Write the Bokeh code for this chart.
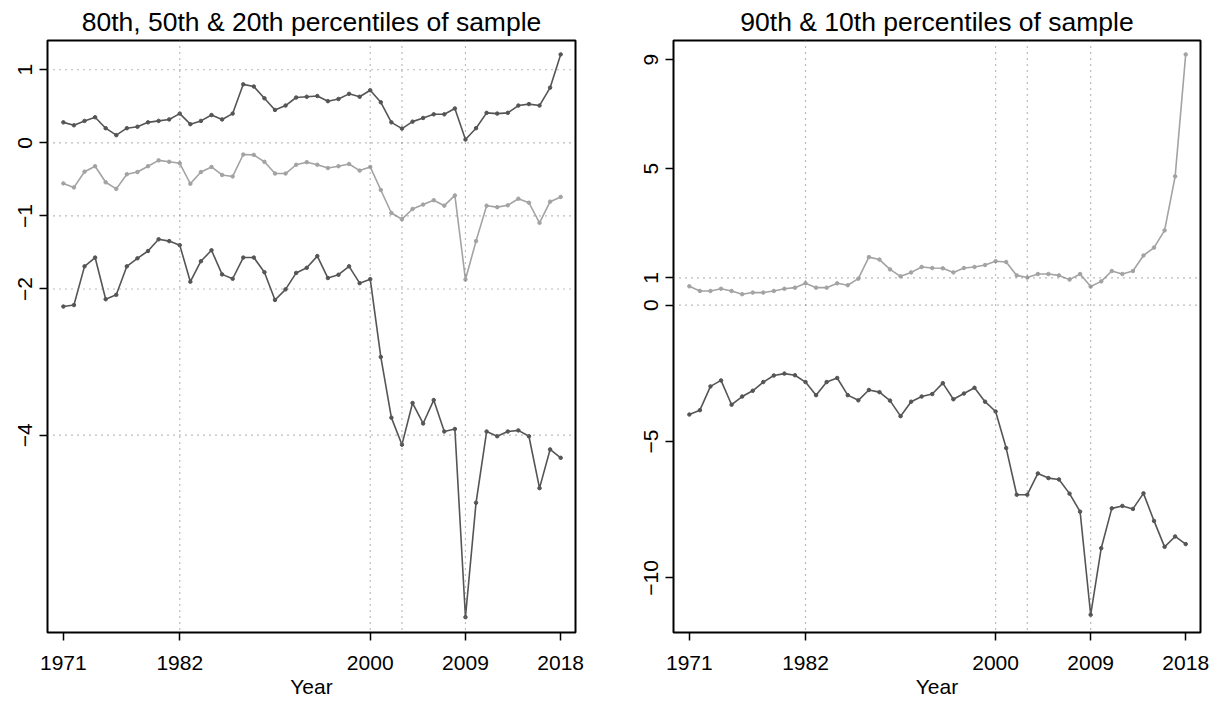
from bokeh.plotting import figure
from bokeh.layouts import row
from bokeh.models import Range1d, FixedTicker, Span
from bokeh.embed import file_html
from bokeh.resources import INLINE

years = list(range(1971, 2019))

p80 = [0.28, 0.24, 0.30, 0.35, 0.20, 0.105, 0.20, 0.22, 0.28, 0.30, 0.32, 0.40,
       0.255, 0.30, 0.38, 0.32, 0.40, 0.80, 0.77, 0.61, 0.45, 0.51, 0.62, 0.63,
       0.64, 0.57, 0.60, 0.67, 0.63, 0.72, 0.555, 0.28, 0.195, 0.29, 0.34, 0.39,
       0.39, 0.47, 0.045, 0.20, 0.41, 0.40, 0.41, 0.51, 0.53, 0.51, 0.755, 1.21]
p50 = [-0.555, -0.61, -0.395, -0.32, -0.54, -0.63, -0.43, -0.40, -0.32, -0.24, -0.26, -0.28,
       -0.56, -0.40, -0.33, -0.44, -0.46, -0.16, -0.165, -0.26, -0.42, -0.42, -0.30, -0.265,
       -0.30, -0.345, -0.32, -0.29, -0.38, -0.33, -0.645, -0.96, -1.045, -0.905, -0.845, -0.785,
       -0.86, -0.72, -1.87, -1.345, -0.86, -0.88, -0.855, -0.765, -0.82, -1.095, -0.805, -0.74]
p20 = [-2.24, -2.22, -1.69, -1.57, -2.14, -2.08, -1.69, -1.58, -1.48, -1.32, -1.345, -1.40,
       -1.90, -1.62, -1.47, -1.80, -1.86, -1.57, -1.57, -1.77, -2.15, -2.005, -1.78, -1.71,
       -1.55, -1.85, -1.805, -1.69, -1.92, -1.865, -2.93, -3.76, -4.13, -3.56, -3.84, -3.52,
       -3.95, -3.915, -6.49, -4.925, -3.95, -4.015, -3.95, -3.935, -4.015, -4.725, -4.195, -4.31]
p90 = [0.69, 0.52, 0.52, 0.60, 0.52, 0.40, 0.46, 0.46, 0.52, 0.60, 0.64, 0.80,
       0.64, 0.64, 0.80, 0.73, 0.97, 1.76, 1.67, 1.31, 1.055, 1.20, 1.40, 1.36,
       1.35, 1.20, 1.36, 1.40, 1.47, 1.61, 1.58, 1.09, 1.01, 1.14, 1.14, 1.09,
       0.935, 1.14, 0.68, 0.87, 1.25, 1.14, 1.25, 1.82, 2.11, 2.74, 4.72, 9.19]
p10 = [-4.01, -3.85, -2.98, -2.76, -3.65, -3.35, -3.14, -2.82, -2.58, -2.51, -2.57, -2.82,
       -3.30, -2.82, -2.67, -3.30, -3.49, -3.11, -3.19, -3.50, -4.07, -3.54, -3.35, -3.26,
       -2.86, -3.45, -3.24, -3.03, -3.54, -3.90, -5.24, -6.95, -6.95, -6.17, -6.34, -6.39,
       -6.91, -7.57, -11.35, -8.91, -7.45, -7.36, -7.47, -6.90, -7.91, -8.86, -8.48, -8.76]

x_ticks = [1971, 1982, 2000, 2009, 2018]
left_y_ticks = [1, 0, -1, -2, -4]
right_y_ticks = [9, 5, 1, 0, -5, -10]
v_refs = [1982, 2000, 2003, 2009]
left_h_refs = [1, 0, -1, -2, -4]
right_h_refs = [1, 0]

left_title = "80th, 50th & 20th percentiles of sample"
right_title = "90th & 10th percentiles of sample"

DARK = "#555555"
LIGHT = "#a3a3a3"
FONT = "Liberation Sans"


def panel(title, series, yticks, hrefs, yr, width, mbl, mbr):
    p = figure(width=width, height=700, output_backend="svg", toolbar_location=None,
               x_range=Range1d(1969.5, 2019.4), y_range=Range1d(*yr),
               min_border_left=mbl, min_border_right=mbr, min_border_top=40,
               min_border_bottom=67)
    p.title.text = title
    p.title.align = "center"
    p.title.text_font = FONT
    p.title.text_font_size = "26.5px"
    p.title.text_font_style = "normal"
    p.title.text_color = "black"
    p.title.standoff = 8
    p.outline_line_color = "black"
    p.outline_line_width = 2
    p.outline_line_alpha = 1
    p.xgrid.visible = False
    p.ygrid.visible = False
    for ax in (p.xaxis, p.yaxis):
        ax.axis_line_color = None
        ax.major_tick_in = 0
        ax.major_tick_out = 8
        ax.major_tick_line_color = "black"
        ax.major_tick_line_width = 1.5
        ax.minor_tick_line_color = None
        ax.major_label_text_font = FONT
        ax.major_label_text_font_size = "21px"
        ax.major_label_text_color = "black"
    p.xaxis.ticker = FixedTicker(ticks=x_ticks)
    p.yaxis.ticker = FixedTicker(ticks=yticks)
    p.xaxis.major_label_standoff = 15
    p.yaxis.major_label_standoff = 7
    p.yaxis.major_label_orientation = "vertical"
    p.xaxis.axis_label = "Year"
    p.xaxis.axis_label_text_font = FONT
    p.xaxis.axis_label_text_font_size = "21px"
    p.xaxis.axis_label_text_font_style = "normal"
    p.xaxis.axis_label_text_color = "black"
    p.xaxis.axis_label_standoff = 2
    for v in v_refs:
        p.add_layout(Span(location=v, dimension="height", line_color="#777777",
                          line_dash="1 5", line_width=1.2))
    for h in hrefs:
        p.add_layout(Span(location=h, dimension="width", line_color="#777777",
                          line_dash="1 5", line_width=1.2))
    for vals, col in series:
        p.line(years, vals, line_color=col, line_width=1.6)
        p.scatter(years, vals, size=3.5, fill_color=col, line_color=col)
    return p


left = panel(left_title, [(p80, DARK), (p50, LIGHT), (p20, DARK)],
             left_y_ticks, left_h_refs, (-6.7, 1.4), 620, 47, 45)
right = panel(right_title, [(p90, LIGHT), (p10, DARK)],
              right_y_ticks, right_h_refs, (-12.0, 9.7), 592, 53, 12)

layout = row(left, right)
open("out.html", "w").write(file_html(layout, INLINE))
